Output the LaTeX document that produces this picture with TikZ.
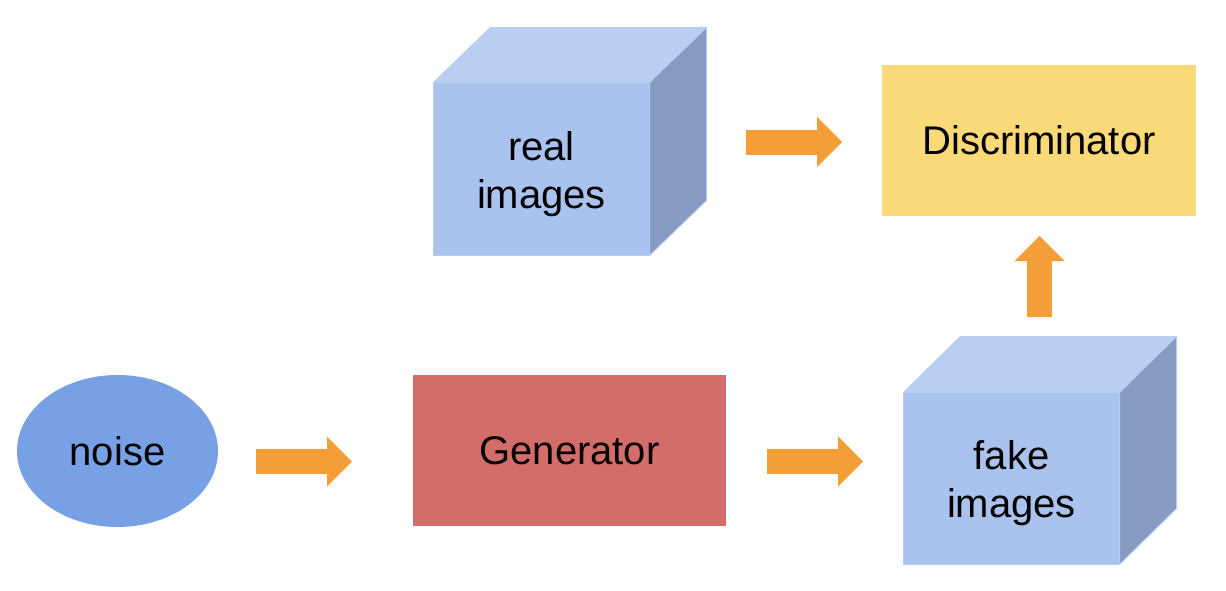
\documentclass[tikz,border=0pt]{standalone}
\usepackage{fontspec}
\setmainfont{Liberation Sans}
\usetikzlibrary{shapes.geometric,arrows.meta,calc}
\definecolor{cubefront}{HTML}{A9C2EE}
\definecolor{cubetop}{HTML}{B9CEF1}
\definecolor{cubeside}{HTML}{879BC2}
\definecolor{cubeline}{HTML}{B6CCF2}
\definecolor{genred}{HTML}{D46D69}
\definecolor{discyellow}{HTML}{F9D978}
\definecolor{noiseblue}{HTML}{78A1E5}
\definecolor{arroworange}{HTML}{F39E38}
\tikzset{
  lbl/.style={font=\fontsize{40}{48}\selectfont, text=black, align=center, inner sep=0pt},
  cubefrontbox/.style={lbl, rectangle, fill=cubefront, draw=cubeline, line width=1pt, minimum width=215pt, minimum height=172pt},
  cubetopface/.style={fill=cubetop, draw=cubeline, line width=1pt, line join=round},
  cubesideface/.style={fill=cubeside, draw=cubeline, line width=1pt, line join=round},
  flatbox/.style={lbl, rectangle, minimum width=313pt, minimum height=151pt},
  blockarrow/.style={draw=arroworange, line width=25pt, -{Triangle[length=25pt,width=50pt,fill=arroworange,line width=0pt]}, shorten >=0pt},
}
\begin{document}
\begin{tikzpicture}[x=1pt,y=-1pt]
\useasboundingbox (0,0) rectangle (1226,590);
% noise
\node[lbl, ellipse, fill=noiseblue, minimum width=201pt, minimum height=152pt] (noise) at (117.5,451) {noise};
% generator
\node[flatbox, fill=genred] (gen) at (569.5,450.5) {Generator};
% discriminator
\node[flatbox, fill=discyellow, minimum width=314pt] (disc) at (1039,140.5) {\raisebox{-2pt}{Discriminator}};
% real images cube
\node[cubefrontbox] (real) at (541.5,169) {};
\fill[cubetopface] (real.north west) -- ++(57,-55) -- ($(real.north east)+(57,-55)$) -- (real.north east) -- cycle;
\fill[cubesideface] (real.north east) -- ++(57,-55) -- ($(real.south east)+(57,-55)$) -- (real.south east) -- cycle;
\draw[cubeline, line width=1pt, fill=cubefront] (real.north west) rectangle (real.south east);
\node[lbl] (realtxt) at ($(real.center)+(0,5)$) {real\\images};
% fake images cube
\node[cubefrontbox, minimum height=171pt] (fake) at (1011.5,478.5) {};
\fill[cubetopface] (fake.north west) -- ++(57,-56) -- ($(fake.north east)+(57,-56)$) -- (fake.north east) -- cycle;
\fill[cubesideface] (fake.north east) -- ++(57,-56) -- ($(fake.south east)+(57,-56)$) -- (fake.south east) -- cycle;
\draw[cubeline, line width=1pt, fill=cubefront] (fake.north west) rectangle (fake.south east);
\node[lbl] (faketxt) at ($(fake.center)+(0,5)$) {fake\\images};
% arrows
\coordinate (a1s) at (256,461.5); \coordinate (a1e) at (352,461.5);
\coordinate (a2s) at (767,461.5); \coordinate (a2e) at (863,461.5);
\coordinate (a3s) at (746,142); \coordinate (a3e) at (842,142);
\coordinate (a4s) at (1039.5,317); \coordinate (a4e) at (1039.5,236);
\draw[blockarrow] (a1s) -- (a1e);
\draw[blockarrow] (a2s) -- (a2e);
\draw[blockarrow] (a3s) -- (a3e);
\draw[blockarrow] (a4s) -- (a4e);
\end{tikzpicture}
\end{document}
